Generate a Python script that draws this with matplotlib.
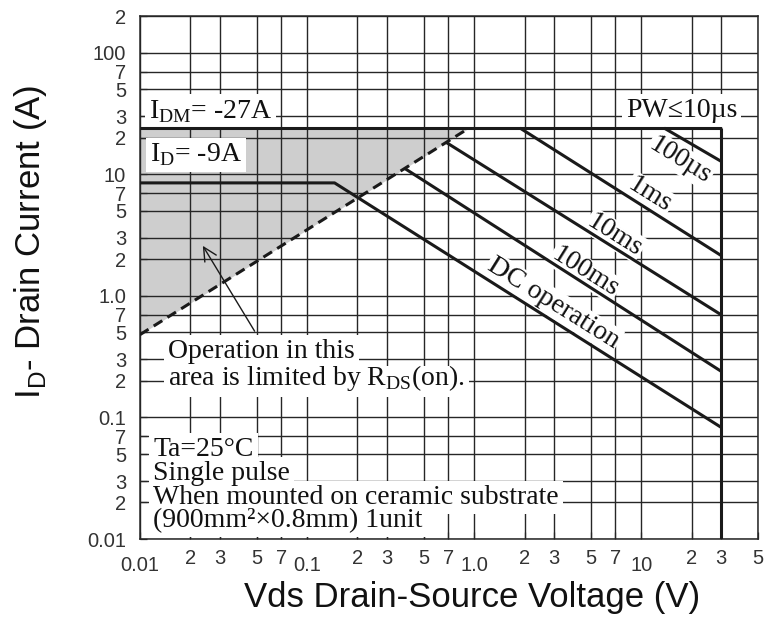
import matplotlib
matplotlib.use('Agg')
import matplotlib.pyplot as plt
from matplotlib.patches import Rectangle

# Оси: позиции сетки и подписи
x_decades = [0.01, 0.1, 1.0, 10]
x_decade_labels = ['0.01', '0.1', '1.0', '10']
x_minor = [0.02, 0.03, 0.05, 0.07, 0.2, 0.3, 0.5, 0.7, 2, 3, 5, 7, 20, 30, 50]
x_minor_labels = ['2', '3', '5', '7', '2', '3', '5', '7', '2', '3', '5', '7', '2', '3', '5']
y_ticks = [0.01, 0.02, 0.03, 0.05, 0.07, 0.1, 0.2, 0.3, 0.5, 0.7, 1.0, 2, 3, 5, 7,
           10, 20, 30, 50, 70, 100, 200]
y_tick_labels = ['0.01', '2', '3', '5', '7', '0.1', '2', '3', '5', '7', '1.0', '2', '3', '5', '7',
                 '10', '2', '3', '5', '7', '100', '2']

# Границы области безопасной работы (В, А)
idm = 24          # импульсный ток (линия PW<=10us)
vmax = 30         # максимальное напряжение
rds_v = [0.01, 0.93]
rds_i = [0.48, 24]
dc_v = [0.01, 0.146, 30]
dc_i = [8.5, 8.5, 0.083]
t100us_v = [13.7, 30]
t100us_i = [24, 12.8]
t1ms_v = [1.88, 30]
t1ms_i = [24, 2.15]
t10ms_v = [0.68, 30]
t10ms_i = [18.3, 0.7]
t100ms_v = [0.383, 30]
t100ms_i = [11.2, 0.24]

sans = 'Liberation Sans'
serif = 'Liberation Serif'
line_col = '#1a1a1a'
grid_col = '#262626'
fill_col = '#cecece'
lw_thick = 2.2
note_size = 20

fig = plt.figure(figsize=(7.65, 6.21), dpi=100)
ax = fig.add_axes([0.183, 0.132, 0.808, 0.842])
ax.set_xscale('log')
ax.set_yscale('log')
ax.set_xlim(0.01, 50)
ax.set_ylim(0.01, 200)

# Сетка рисуется вручную, чтобы белые плашки текста её перекрывали
for v in x_decades + x_minor:
    ax.axvline(v, color=grid_col, lw=1.0, zorder=1)
for v in y_ticks:
    ax.axhline(v, color=grid_col, lw=1.0, zorder=1)

# Серая область, ограниченная RDS(on)
ax.fill_between(rds_v, rds_i, [idm, idm], color=fill_col, lw=0, zorder=0.5)

# Кривые
ax.plot([0.01, vmax], [idm, idm], color=line_col, lw=lw_thick, zorder=3, solid_capstyle='butt')
ax.plot([vmax, vmax], [idm, 0.01], color=line_col, lw=lw_thick, zorder=3, solid_capstyle='butt')
ax.plot(rds_v, rds_i, color=line_col, lw=lw_thick, ls=(0, (3.3, 2.0)), zorder=3)
for v, i in [(dc_v, dc_i), (t100us_v, t100us_i), (t1ms_v, t1ms_i),
             (t10ms_v, t10ms_i), (t100ms_v, t100ms_i)]:
    ax.plot(v, i, color=line_col, lw=lw_thick, zorder=3, solid_capstyle='butt')

# Горизонтальные подписи: белые плашки добавляются отдельно после отрисовки
notes = []


def note(x, y, s, **kw):
    t = ax.text(x, y, s, family=serif, fontsize=note_size, color='#111111', zorder=2.2,
                va='baseline', ha='left', **kw)
    notes.append(t)
    return t


note(0.0113, 29, r'I$_\mathregular{DM}$= -27A')
note(0.0115, 12.7, r'I$_\mathregular{D}$= -9A')
note(8.1, 29.7, 'PW\u226410\u00b5s')
for y, s in [(0.0482, 'Ta=25\u00b0C'), (0.0306, 'Single pulse'),
             (0.0194, 'When mounted on ceramic substrate'),
             (0.01262, '(900mm\u00b2\u00d70.8mm) 1unit')]:
    note(0.012, y, s)

# Двухстрочная подпись про RDS(on) - одним текстом
rds_text = ax.text(0.0147, 0.186, 'Operation in this\n' + r'area is limited by R$_\mathregular{DS}$(on).',
                   family=serif, fontsize=note_size, color='#111111', zorder=2.2,
                   va='baseline', ha='left', linespacing=0.95)

# Подписи длительностей вдоль линий
rot = -32
for x, y, s in [(17.1, 13.1, '100\u00b5s'), (11.2, 6.75, '1ms'), (6.93, 3.16, '10ms'),
                (4.6, 1.57, '100ms'), (2.96, 0.873, 'DC operation')]:
    ax.text(x, y, s, family=serif, fontsize=note_size, color='#111111', rotation=rot,
            rotation_mode='anchor', ha='center', va='center', zorder=2.2,
            bbox=dict(boxstyle='square,pad=0.05', fc='white', ec='none'))

ax.annotate('', xy=(0.0233, 2.7), xytext=(0.0495, 0.49),
            arrowprops=dict(arrowstyle='->', color=line_col, lw=1.0, mutation_scale=24),
            zorder=3)

# Деления и подписи осей
ax.set_xticks(x_minor, x_minor_labels)
ax.set_xticks(x_decades, x_decade_labels, minor=True)
ax.set_yticks(y_ticks, y_tick_labels)
ax.set_yticks([], minor=True)
ax.tick_params(axis='both', which='both', direction='in', length=5, width=0.9,
               color=grid_col, labelcolor='#333333', labelsize=14.5)
ax.tick_params(axis='x', which='major', pad=7)
ax.tick_params(axis='x', which='minor', pad=12)
ax.tick_params(axis='y', pad=10)
for lab in ax.get_xticklabels(which='both') + ax.get_yticklabels():
    lab.set_family(sans)
for sp in ax.spines.values():
    sp.set_color(grid_col)
    sp.set_linewidth(1.1)

ax.set_xlabel('Vds Drain-Source Voltage (V)', family=sans, fontsize=25, color='#111111')
ax.xaxis.label.set_verticalalignment('center')
ax.xaxis.set_label_coords(0.537, -0.111)
ax.set_ylabel(r'I$_\mathregular{D}$- Drain Current (A)', family=sans, fontsize=25,
              color='#111111')
ax.yaxis.label.set_verticalalignment('center')
ax.yaxis.set_label_coords(-0.177, 0.568)

# Белые плашки под горизонтальными подписями
fig.canvas.draw()
renderer = fig.canvas.get_renderer()
inv = ax.transData.inverted()


def white_patch(bb):
    (x0, y0), (x1, y1) = inv.transform([[bb.x0, bb.y0], [bb.x1, bb.y1]])
    ax.add_patch(Rectangle((x0, y0), x1 - x0, y1 - y0, fc='white', ec='none', zorder=2))


for t in notes:
    white_patch(t.get_window_extent(renderer).padded(4))

# для двухстрочной подписи: нижняя строка на всю ширину, верхняя - по ширине первой строки
bb = rds_text.get_window_extent(renderer).padded(4)
tmp = ax.text(0.0147, 0.3, 'Operation in this', family=serif, fontsize=note_size)
w1 = tmp.get_window_extent(renderer).width + 8
tmp.remove()
ymid = (bb.y0 + bb.y1) / 2
white_patch(matplotlib.transforms.Bbox([[bb.x0, bb.y0], [bb.x1, ymid]]))
white_patch(matplotlib.transforms.Bbox([[bb.x0, ymid], [bb.x0 + w1, bb.y1]]))

fig.savefig('out.png', dpi=100)
plt.close(fig)
